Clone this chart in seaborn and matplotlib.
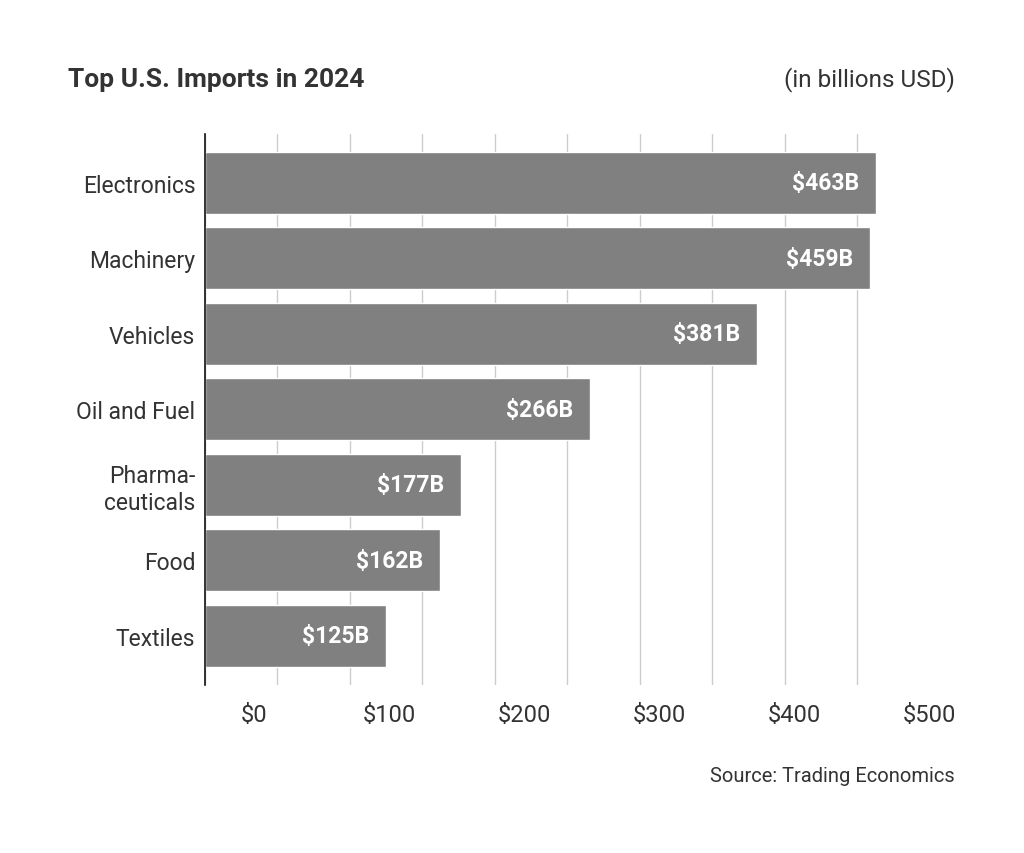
"""
Top U.S. imports in 2024 - horizontal bar chart
"""
import matplotlib
matplotlib.use("Agg")
import matplotlib.pyplot as plt
import seaborn as sns
import numpy as np

categories = ["Electronics", "Machinery", "Vehicles", "Oil and Fuel",
              "Pharma-\nceuticals", "Food", "Textiles"]
values = [463, 459, 381, 266, 177, 162, 125]
tick_labels = ["$0", "$100", "$200", "$300", "$400", "$500"]

sns.set_style("white")
plt.rcParams['font.family'] = ['Roboto', 'DejaVu Sans']

BAR_COLOR = "#808080"
TEXT_COLOR = "#333333"

fig = plt.figure(figsize=(10.24, 8.54), dpi=100)
ax = fig.add_axes([0.2002, 0.197, 0.7075, 0.645])

sns.barplot(x=values, y=categories, orient='h', color=BAR_COLOR,
            saturation=1, width=0.82, ax=ax)

# value labels inside bar ends
for i, v in enumerate(values):
    ax.annotate(f"${v}B", xy=(v, i), xytext=(-17, 0), textcoords='offset pixels',
                ha='right', va='center', color='white', fontsize=16.5,
                fontweight='bold')

ax.set_xlim(0, 500)
ax.set_ylim(6.65, -0.65)

# gridlines every 50, labels spread evenly (as in the original)
ax.set_xticks(np.arange(0, 501, 50), minor=True)
ax.set_xticks(np.linspace(33.7, 500, len(tick_labels)), tick_labels)
ax.grid(False)
ax.grid(True, which='minor', axis='x', color='#cccccc', linewidth=1)
ax.set_axisbelow(True)

ax.tick_params(axis='x', which='both', length=0, pad=13, labelsize=17,
               labelcolor=TEXT_COLOR)
ax.tick_params(axis='y', length=0, pad=7, labelsize=16.5, labelcolor=TEXT_COLOR)
for lbl in ax.get_yticklabels():
    lbl.set_horizontalalignment('right')
    lbl.set_multialignment('right')

for side in ['top', 'right', 'bottom']:
    ax.spines[side].set_visible(False)
ax.spines['left'].set_color('#111111')
ax.spines['left'].set_linewidth(1.2)
ax.set_xlabel('')
ax.set_ylabel('')

fig.text(68 / 1024, 1 - 80 / 854, "Top U.S. Imports in 2024", fontsize=19,
         fontweight='bold', color=TEXT_COLOR, ha='left', va='center')
fig.text(955 / 1024, 1 - 80 / 854, "(in billions USD)", fontsize=17.5,
         color=TEXT_COLOR, ha='right', va='center')
fig.text(955 / 1024, 1 - 777 / 854, "Source: Trading Economics", fontsize=14.5,
         color=TEXT_COLOR, ha='right', va='center')

fig.savefig("out.png", dpi=100, facecolor='white')
